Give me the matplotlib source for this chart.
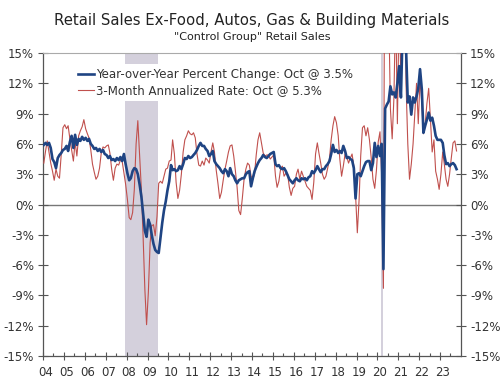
import numpy as np
import pandas as pd
import matplotlib
matplotlib.use("Agg")
import matplotlib.pyplot as plt
import matplotlib.dates as mdates
import matplotlib.transforms as mtrans

# ---- data (monthly, Jan 2004 - Oct 2023) ----
yoy_2004 = [5.9, 6.1, 5.9, 6.1, 5.6, 4.5, 4.2, 3.6, 4.6, 4.9, 5.1, 5.4]
yoy_2005 = [5.5, 5.8, 5.3, 6.2, 6.8, 5.6, 6.9, 5.9, 6.5, 6.3, 6.7, 6.4]
yoy_2006 = [6.6, 6.3, 6.5, 6.0, 5.8, 5.5, 5.6, 5.3, 5.5, 5.2, 5.4, 5.0]
yoy_2007 = [4.9, 4.6, 4.8, 4.4, 4.5, 4.3, 4.6, 4.4, 4.7, 4.3, 5.0, 4.0]
yoy_2008 = [3.1, 2.4, 2.6, 3.3, 3.6, 3.5, 3.0, 2.0, 0.8, -0.9, -2.6, -3.2]
yoy_2009 = [-1.5, -2.0, -3.0, -3.9, -4.5, -4.7, -4.8, -3.3, -1.8, -0.6, 0.3, 1.4]
yoy_2010 = [2.3, 3.9, 3.4, 3.5, 3.3, 3.4, 3.8, 3.5, 4.0, 4.6, 4.5, 4.8]
yoy_2011 = [4.6, 4.7, 4.9, 5.1, 5.4, 5.8, 6.1, 5.8, 5.8, 5.5, 5.3, 4.8]
yoy_2012 = [5.0, 5.3, 4.3, 4.0, 3.8, 3.6, 3.3, 3.1, 3.5, 3.3, 2.8, 3.6]
yoy_2013 = [3.0, 2.8, 2.4, 2.1, 2.4, 2.5, 2.6, 2.6, 3.0, 3.2, 3.3, 1.8]
yoy_2014 = [2.6, 3.3, 3.7, 4.1, 4.4, 4.6, 4.9, 4.7, 4.6, 4.8, 5.0, 5.1]
yoy_2015 = [5.2, 4.0, 3.8, 3.9, 3.6, 3.5, 3.6, 3.3, 2.9, 2.5, 2.3, 2.1]
yoy_2016 = [2.4, 2.6, 2.4, 2.3, 2.6, 2.5, 2.6, 2.4, 2.7, 2.8, 3.3, 3.1]
yoy_2017 = [3.4, 3.8, 3.5, 3.2, 3.5, 3.5, 3.8, 4.0, 4.3, 5.0, 5.9, 5.2]
yoy_2018 = [5.4, 5.1, 5.3, 5.1, 5.8, 5.3, 4.6, 4.7, 4.5, 4.4, 3.6, 0.6]
yoy_2019 = [3.0, 3.1, 2.8, 3.3, 3.8, 4.2, 4.3, 4.3, 3.4, 4.1, 6.1, 4.7]
yoy_2020 = [5.8, 4.8, 6.0, -6.4, 9.5, 9.9, 10.2, 11.7, 10.9, 11.1, 10.6, 12.0]
yoy_2021 = [13.7, 10.6, 17.0, 26.0, 15.5, 10.1, 10.7, 8.9, 10.6, 10.1, 10.7, 11.5]
yoy_2022 = [13.4, 11.4, 7.1, 7.8, 8.4, 9.1, 8.3, 8.6, 7.8, 6.8, 6.4, 6.4]
yoy_2023 = [6.4, 6.1, 4.9, 4.0, 4.1, 3.8, 4.0, 4.1, 3.9, 3.5]

ann_2004 = [4.1, 5.3, 6.3, 5.2, 4.1, 3.3, 2.4, 3.5, 2.8, 2.6, 5.0, 7.6]
ann_2005 = [7.9, 7.5, 7.8, 6.5, 5.4, 4.3, 6.2, 4.8, 6.8, 7.3, 7.7, 8.4]
ann_2006 = [7.5, 7.0, 6.6, 5.4, 4.0, 3.2, 2.5, 2.8, 3.6, 5.1, 5.7, 5.6]
ann_2007 = [5.8, 5.9, 5.1, 3.5, 2.4, 3.6, 4.0, 3.9, 4.4, 4.3, 3.1, 2.0]
ann_2008 = [0.5, -1.3, -1.5, -0.8, 1.5, 6.0, 8.3, 5.0, 1.5, -3.1, -8.4, -11.9]
ann_2009 = [-8.7, -3.8, -2.1, -2.0, -3.1, -1.2, 2.1, 2.3, 2.1, 2.8, 3.5, 3.6]
ann_2010 = [4.3, 4.4, 6.4, 5.0, 2.2, 0.6, 1.4, 3.0, 5.2, 6.4, 6.8, 7.3]
ann_2011 = [7.0, 6.9, 7.1, 6.6, 5.0, 3.9, 3.8, 4.3, 3.9, 4.6, 4.4, 4.1]
ann_2012 = [5.2, 6.1, 5.2, 3.4, 2.1, 0.6, 1.2, 2.4, 3.5, 4.3, 5.2, 5.8]
ann_2013 = [5.9, 4.8, 3.4, 1.7, -0.6, -1.0, 0.6, 2.5, 3.5, 4.1, 3.9, 2.8]
ann_2014 = [2.5, 3.1, 4.9, 6.4, 7.1, 6.1, 5.1, 4.8, 4.9, 4.9, 4.5, 4.7]
ann_2015 = [4.9, 2.8, 1.7, 2.3, 3.5, 3.8, 2.8, 3.1, 3.0, 1.7, 0.9, 1.6]
ann_2016 = [1.8, 3.0, 3.5, 2.5, 3.3, 2.8, 2.3, 1.8, 1.6, 1.4, 0.5, 2.2]
ann_2017 = [5.0, 6.1, 5.1, 4.1, 3.0, 2.5, 2.8, 3.6, 4.5, 6.4, 7.8, 8.7]
ann_2018 = [8.1, 6.8, 4.5, 2.8, 3.8, 5.0, 4.7, 4.1, 4.6, 5.0, 3.8, 1.0]
ann_2019 = [-2.8, 0.5, 4.8, 7.6, 7.8, 6.8, 7.6, 6.4, 4.6, 2.5, 1.6, 3.4]
ann_2020 = [6.2, 7.2, 3.0, -8.3, 40.0, 40.0, 20.0, 9.5, 6.5, 10.5, 20.0, 8.0]
ann_2021 = [20.0, 12.0, 25.0, 30.0, 12.0, 6.0, 2.5, 4.0, 6.0, 9.0, 12.0, 8.0]
ann_2022 = [12.5, 10.0, 7.0, 8.0, 10.0, 11.5, 8.5, 5.2, 6.4, 3.3, 2.5, 1.5]
ann_2023 = [3.0, 5.2, 4.0, 2.5, 1.8, 3.0, 4.6, 6.1, 6.3, 5.3]

recessions = [("2007-12-01", "2009-07-01"), ("2020-03-01", "2020-04-01")]
yticks = list(range(-15, 16, 3))
title = "Retail Sales Ex-Food, Autos, Gas & Building Materials"
subtitle = '"Control Group" Retail Sales'
label_yoy = "Year-over-Year Percent Change: Oct @ 3.5%"
label_ann = "3-Month Annualized Rate: Oct @ 5.3%"

yoy = sum([yoy_2004, yoy_2005, yoy_2006, yoy_2007, yoy_2008, yoy_2009, yoy_2010,
           yoy_2011, yoy_2012, yoy_2013, yoy_2014, yoy_2015, yoy_2016, yoy_2017,
           yoy_2018, yoy_2019, yoy_2020, yoy_2021, yoy_2022, yoy_2023], [])
ann = sum([ann_2004, ann_2005, ann_2006, ann_2007, ann_2008, ann_2009, ann_2010,
           ann_2011, ann_2012, ann_2013, ann_2014, ann_2015, ann_2016, ann_2017,
           ann_2018, ann_2019, ann_2020, ann_2021, ann_2022, ann_2023], [])
dates = pd.date_range("2004-01-01", periods=len(yoy), freq="MS") + pd.Timedelta(days=14)

# ---- figure ----
plt.rcParams["font.family"] = ["DejaVu Sans"]
fig = plt.figure(figsize=(5.04, 3.79), dpi=100)
ax = fig.add_axes([43/504, 1-356/379, (461-43)/504, (356-53)/379])

txtc = "#333333"
for a, b in recessions:
    ax.axvspan(pd.Timestamp(a), pd.Timestamp(b), color="#d4d0dc", lw=0, zorder=0)
ax.axhline(0, color="#777777", lw=1.0, zorder=1)
ax.plot(dates, ann, color="#c0504d", lw=0.8, label=label_ann, zorder=3)
ax.plot(dates, yoy, color="#1f4483", lw=1.9, label=label_yoy, zorder=4)

ax.set_xlim(pd.Timestamp("2004-01-01"), pd.Timestamp("2023-12-31 18:00"))
ax.set_ylim(-15, 15)
ax.set_yticks(yticks)
ax.set_yticklabels([f"{t}%" for t in yticks])
ax.xaxis.set_major_locator(mdates.YearLocator())
ax.xaxis.set_major_formatter(mdates.DateFormatter("%y"))
ax.xaxis.set_minor_locator(mdates.MonthLocator(bymonth=7))

ax.tick_params(axis="y", which="major", direction="inout", length=7, width=0.8,
               color="#555555", labelsize=8.5, labelcolor=txtc, left=True, right=True,
               labelleft=True, labelright=True, pad=3)
ax.tick_params(axis="x", which="major", direction="inout", length=6, width=0.8,
               color="#555555", labelsize=8.5, labelcolor=txtc, pad=4)
ax.tick_params(axis="x", which="minor", direction="in", length=2.5, width=0.8,
               color="#555555")
offset = mtrans.ScaledTranslation(2.5/100, 0, fig.dpi_scale_trans)
for lab in ax.get_xticklabels():
    lab.set_transform(lab.get_transform() + offset)

for s in ["left", "right", "bottom"]:
    ax.spines[s].set_color("#555555")
    ax.spines[s].set_linewidth(0.9)
ax.spines["top"].set_color("#aaaaaa")
ax.spines["top"].set_linewidth(0.8)

h, l = ax.get_legend_handles_labels()
leg = ax.legend(h[::-1], l[::-1], loc="upper left", bbox_to_anchor=(0.075, 0.965),
                frameon=True, fancybox=False, framealpha=1, facecolor="white",
                edgecolor="none", fontsize=8.5, handlelength=1.3, handletextpad=0.2,
                borderpad=0.35, labelspacing=0.25, borderaxespad=0)
for t in leg.get_texts():
    t.set_color(txtc)
leg.set_zorder(5)

fig.text(0.5, 1-20.5/379, title, ha="center", va="center", fontsize=10.75, color="#222222")
fig.text(0.5, 1-36.5/379, subtitle, ha="center", va="center", fontsize=8, color="#222222")

fig.savefig("out.png", dpi=100)
